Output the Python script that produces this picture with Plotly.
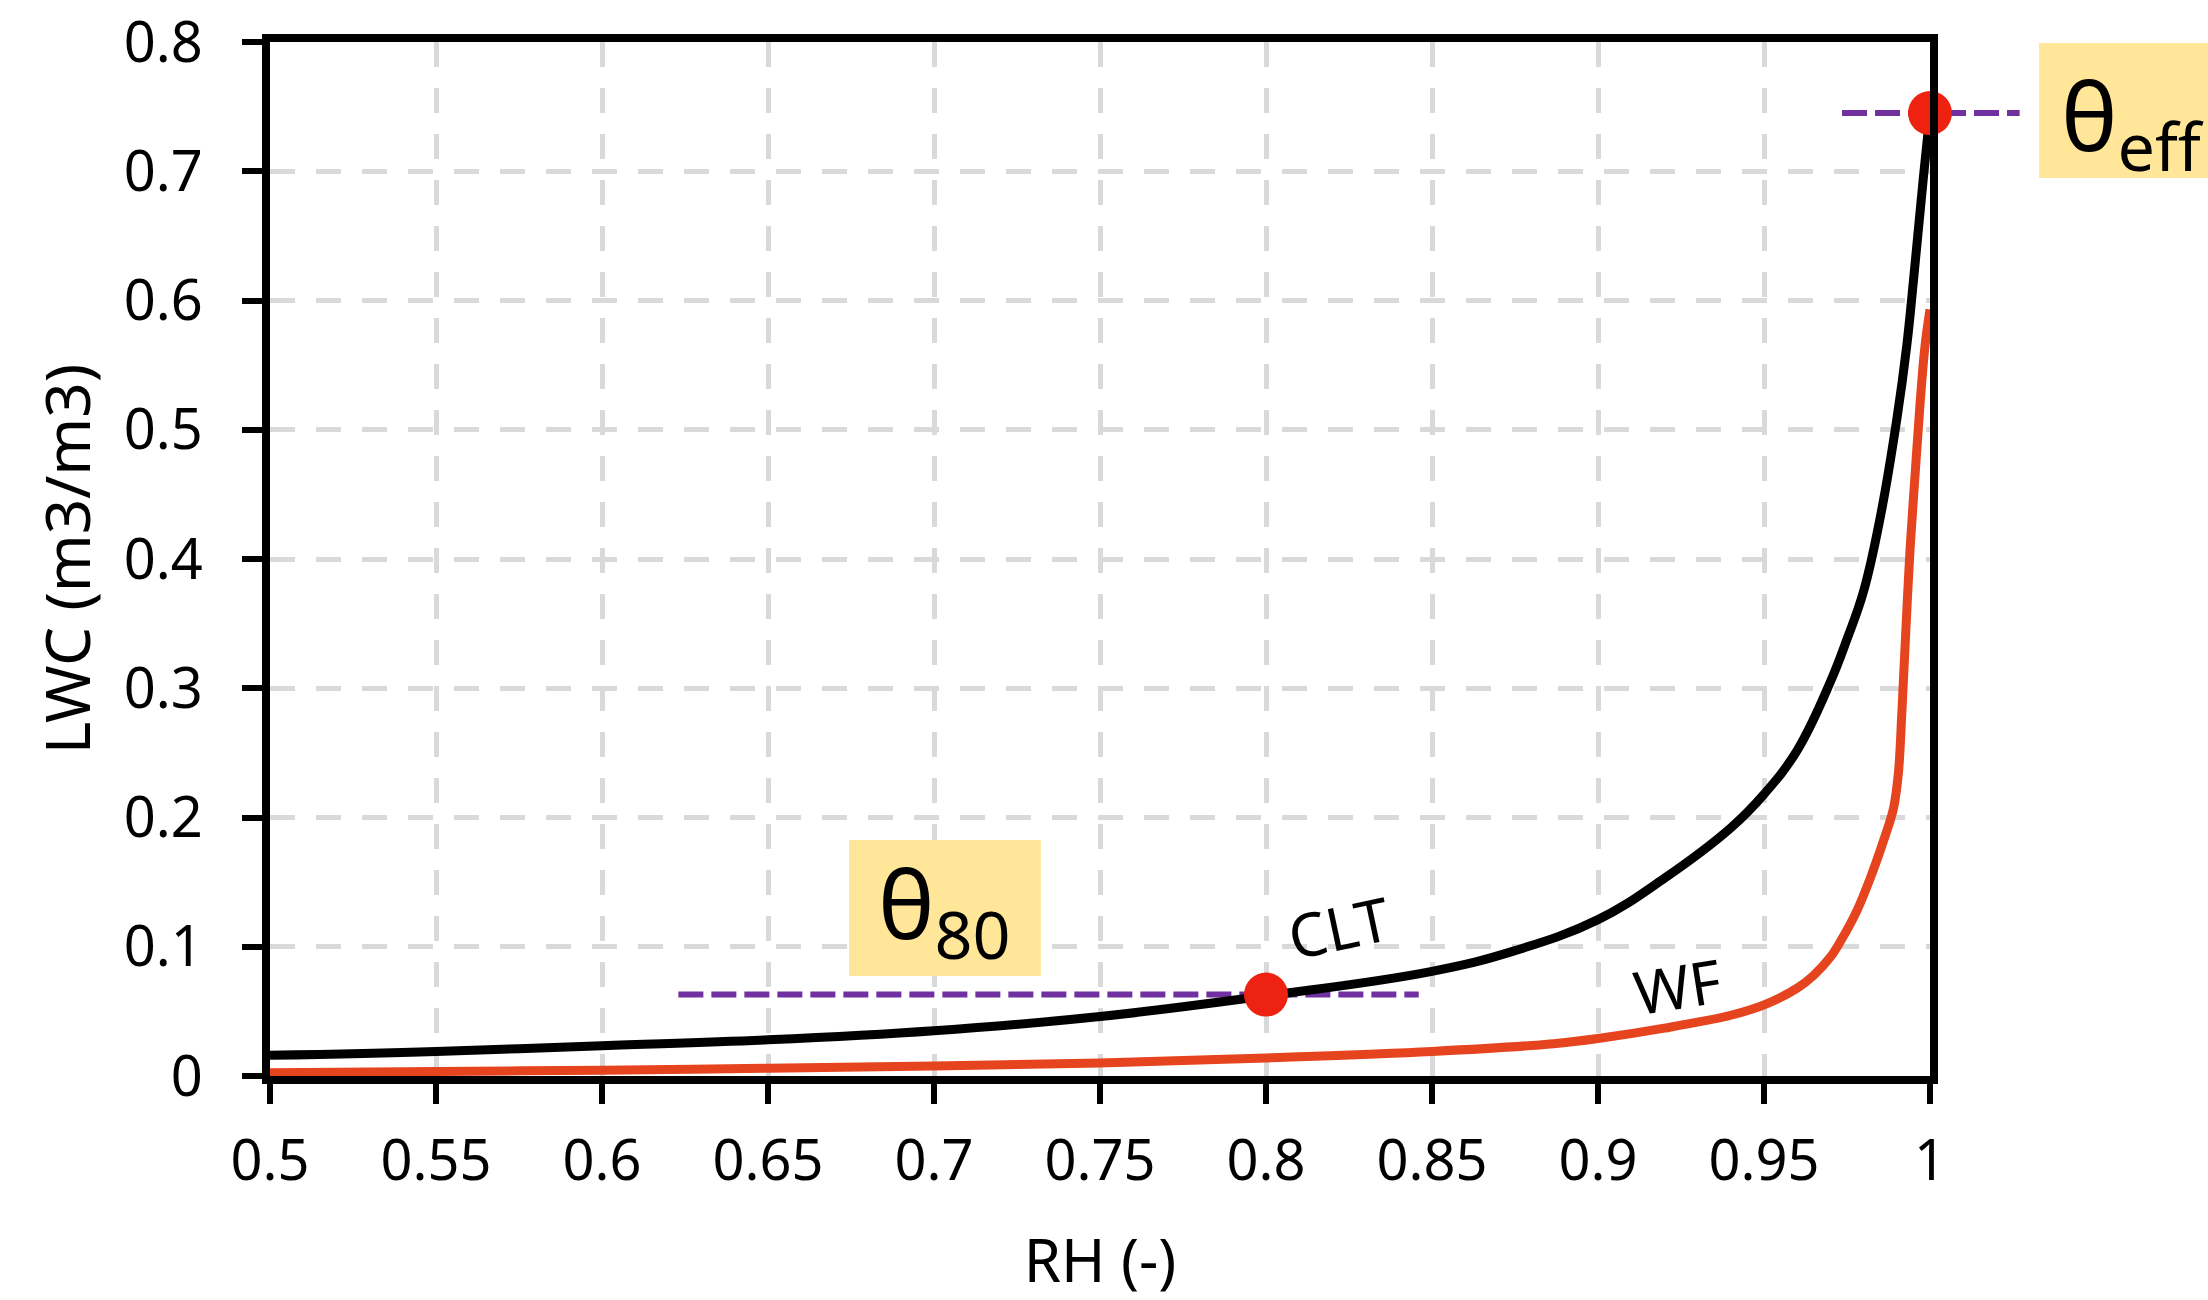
import plotly.graph_objects as go

# ---- data ----
rh_clt = [0.5, 0.55, 0.6, 0.65, 0.7, 0.75, 0.8, 0.85, 0.875, 0.9, 0.92, 0.94, 0.95, 0.96,
          0.97, 0.975, 0.98, 0.985, 0.99, 0.993, 0.995, 0.998, 1.0]
lwc_clt = [0.016, 0.019, 0.0235, 0.028, 0.035, 0.046, 0.062, 0.081, 0.097, 0.121, 0.153, 0.192,
           0.218, 0.252, 0.305, 0.338, 0.375, 0.432, 0.508, 0.565, 0.615, 0.695, 0.745]

rh_wf = [0.5, 0.55, 0.6, 0.65, 0.7, 0.75, 0.8, 0.85, 0.8866, 0.9, 0.92, 0.94, 0.95, 0.96, 0.965,
         0.97, 0.973, 0.978, 0.982, 0.986, 0.989, 0.9905, 0.9915, 0.9925, 0.994, 0.9955, 0.997,
         0.9985, 1.0]
lwc_wf = [0.0026, 0.0035, 0.0045, 0.006, 0.0078, 0.010, 0.014, 0.019, 0.025, 0.029, 0.037, 0.047,
          0.055, 0.068, 0.078, 0.092, 0.104, 0.128, 0.153, 0.182, 0.207, 0.235, 0.280, 0.333, 0.408,
          0.465, 0.520, 0.565, 0.593]

theta80_rh, theta80_lwc = 0.8, 0.063
thetaeff_rh, thetaeff_lwc = 1.0, 0.745
theta80_line = [0.623, 0.846]
thetaeff_line = [0.9735, 1.027]

x_ticks = [0.5, 0.55, 0.6, 0.65, 0.7, 0.75, 0.8, 0.85, 0.9, 0.95, 1.0]
x_ticktext = ["0.5", "0.55", "0.6", "0.65", "0.7", "0.75", "0.8", "0.85", "0.9", "0.95", "1"]
y_ticks = [0, 0.1, 0.2, 0.3, 0.4, 0.5, 0.6, 0.7, 0.8]
y_ticktext = ["0", "0.1", "0.2", "0.3", "0.4", "0.5", "0.6", "0.7", "0.8"]

X_RANGE = [0.5, 1.0]
Y_RANGE = [0, 0.8]

FONT = "Noto Sans"
BLACK = "#000000"
RED_LINE = "#E5441E"
RED_DOT = "#EE2211"
PURPLE = "#7030A0"
YELLOW = "#FFE699"


def xpaper(v):
    return (v - X_RANGE[0]) / (X_RANGE[1] - X_RANGE[0])


fig = go.Figure()

fig.add_trace(go.Scatter(x=rh_wf, y=lwc_wf, mode="lines",
                         line=dict(color=RED_LINE, width=9, shape="spline", smoothing=1.0),
                         showlegend=False, hoverinfo="skip"))
fig.add_trace(go.Scatter(x=rh_clt, y=lwc_clt, mode="lines",
                         line=dict(color=BLACK, width=9, shape="spline", smoothing=1.15),
                         showlegend=False, hoverinfo="skip"))
fig.add_trace(go.Scatter(x=[theta80_rh, thetaeff_rh], y=[theta80_lwc, thetaeff_lwc],
                         mode="markers", marker=dict(color=RED_DOT, size=44, line=dict(width=0)),
                         cliponaxis=False, showlegend=False, hoverinfo="skip"))

shapes = [
    dict(type="line", xref="x", yref="y", layer="below",
         x0=theta80_line[0], x1=theta80_line[1], y0=theta80_lwc, y1=theta80_lwc,
         line=dict(color=PURPLE, width=6, dash="25px,8px")),
    dict(type="line", xref="paper", yref="y", layer="below",
         x0=xpaper(thetaeff_line[0]), x1=xpaper(thetaeff_line[1]), y0=thetaeff_lwc, y1=thetaeff_lwc,
         line=dict(color=PURPLE, width=6, dash="25px,8px")),
    dict(type="rect", xref="x", yref="y", layer="above",
         x0=0.6744, x1=0.7322, y0=0.0774, y1=0.1826,
         fillcolor=YELLOW, line=dict(width=0)),
    dict(type="rect", xref="paper", yref="paper", layer="above",
         x0=1.0657, x1=1.2, y0=0.8685, y1=0.999,
         fillcolor=YELLOW, line=dict(width=0)),
]

annotations = [
    dict(text="θ<sub>80</sub>", x=0.7033, y=0.13, xref="x", yref="y", showarrow=False,
         xanchor="center", yanchor="middle", font=dict(family=FONT, size=95, color=BLACK)),
    dict(text="θ<sub>eff</sub>", x=1.1217, y=0.925, xref="paper", yref="paper", showarrow=False,
         xanchor="center", yanchor="middle", font=dict(family=FONT, size=95, color=BLACK)),
    dict(text="CLT", x=0.822, y=0.115, xref="x", yref="y", showarrow=False, textangle=-12,
         xanchor="center", yanchor="middle", font=dict(family=FONT, size=60, color=BLACK)),
    dict(text="WF", x=0.9238, y=0.0696, xref="x", yref="y", showarrow=False, textangle=-9,
         xanchor="center", yanchor="middle", font=dict(family=FONT, size=60, color=BLACK)),
]

fig.update_layout(
    width=2208, height=1300,
    margin=dict(l=270, r=278, t=42, b=224, autoexpand=False),
    paper_bgcolor="white", plot_bgcolor="rgba(0,0,0,0)",
    font=dict(family=FONT, color=BLACK),
    shapes=shapes, annotations=annotations,
    showlegend=False,
)

fig.update_xaxes(
    range=X_RANGE, tickvals=x_ticks, ticktext=x_ticktext, automargin=False,
    tickfont=dict(family=FONT, size=56, color=BLACK),
    ticks="outside", ticklen=20, tickwidth=6, tickcolor=BLACK,
    ticklabelstandoff=9,
    showline=True, linecolor=BLACK, linewidth=8, mirror=True,
    showgrid=True, gridcolor="#D9D9D9", gridwidth=5, griddash="25px,21px",
    zeroline=False,
    title=dict(text="RH (-)", font=dict(family=FONT, size=60, color=BLACK), standoff=54),
)
fig.update_yaxes(
    range=Y_RANGE, tickvals=y_ticks, ticktext=y_ticktext, automargin=False,
    tickfont=dict(family=FONT, size=56, color=BLACK),
    ticks="outside", ticklen=20, tickwidth=6, tickcolor=BLACK,
    ticklabelstandoff=28,
    showline=True, linecolor=BLACK, linewidth=8, mirror=True,
    showgrid=True, gridcolor="#D9D9D9", gridwidth=5, griddash="25px,21px",
    zeroline=False,
    title=dict(text="LWC (m3/m3)", font=dict(family=FONT, size=62, color=BLACK), standoff=16),
)

fig.write_html("out.html", config={"displayModeBar": False},
               post_script="document.body.style.margin='0';")
